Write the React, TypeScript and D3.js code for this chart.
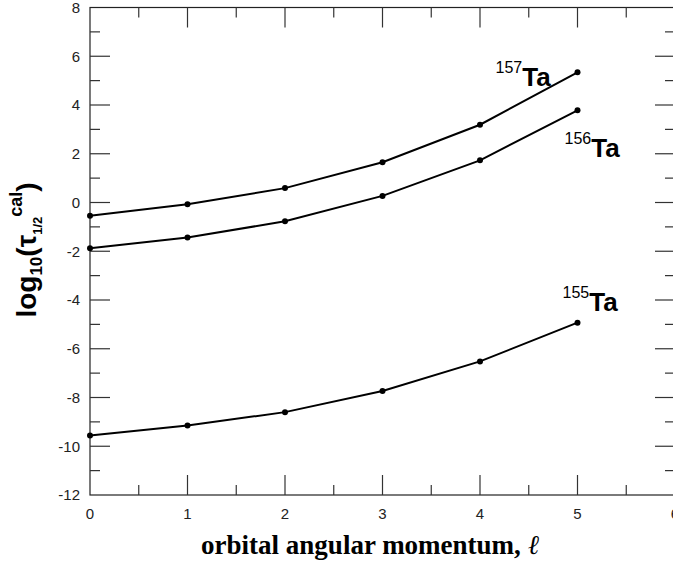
import { useEffect, useRef } from 'react';
import * as d3 from 'd3';

const ell = [0, 1, 2, 3, 4, 5];
const ta157 = [-0.54, -0.07, 0.59, 1.65, 3.19, 5.34];
const ta156 = [-1.88, -1.44, -0.77, 0.27, 1.73, 3.78];
const ta155 = [-9.56, -9.15, -8.6, -7.73, -6.52, -4.93];
const xTicks = [0, 1, 2, 3, 4, 5, 6];
const yTicks = [-12, -10, -8, -6, -4, -2, 0, 2, 4, 6, 8];

const labels = [
  { mass: '157', series: ta157, dx: -82, dy: 14 },
  { mass: '156', series: ta156, dx: -13, dy: 47 },
  { mass: '155', series: ta155, dx: -15, dy: -12 },
];

const App = () => {
  const svgRef = useRef<SVGSVGElement>(null);
  const width = 673;
  const height = 563;

  useEffect(() => {
    if (!svgRef.current) return;
    const svg = d3.select(svgRef.current);
    svg.selectAll('*').remove();

    const left = 90, right = 675, top = 7.5, bottom = 495;
    const x = d3.scaleLinear().domain([0, 6]).range([left, right]);
    const y = d3.scaleLinear().domain([-12, 8]).range([bottom, top]);

    const tickColor = '#333';
    const g = svg.append('g');

    // frame
    g.append('rect')
      .attr('x', left).attr('y', top)
      .attr('width', right - left).attr('height', bottom - top)
      .attr('fill', 'none').attr('stroke', '#222').attr('stroke-width', 1.2);

    // y ticks (major every 2, minor between)
    const yMinor = d3.range(-11, 8, 2);
    const tickSet = (vals: number[], len: number) => {
      vals.forEach(v => {
        g.append('line').attr('x1', left).attr('x2', left + len)
          .attr('y1', y(v)).attr('y2', y(v))
          .attr('stroke', tickColor).attr('stroke-width', 1.2);
        g.append('line').attr('x1', right).attr('x2', right - len)
          .attr('y1', y(v)).attr('y2', y(v))
          .attr('stroke', tickColor).attr('stroke-width', 1.2);
      });
    };
    tickSet(yTicks.slice(1, -1), 20);
    tickSet(yMinor, 10);

    const xMinor = d3.range(0.5, 6, 1);
    const xTickSet = (vals: number[], len: number) => {
      vals.forEach(v => {
        g.append('line').attr('x1', x(v)).attr('x2', x(v))
          .attr('y1', bottom).attr('y2', bottom - len)
          .attr('stroke', tickColor).attr('stroke-width', 1.2);
        g.append('line').attr('x1', x(v)).attr('x2', x(v))
          .attr('y1', top).attr('y2', top + len)
          .attr('stroke', tickColor).attr('stroke-width', 1.2);
      });
    };
    xTickSet(xTicks.slice(1, -1), 20);
    xTickSet(xMinor, 10);

    // tick labels
    g.selectAll('.ylab').data(yTicks).enter().append('text')
      .attr('x', left - 10).attr('y', d => y(d)).attr('dy', '0.35em')
      .attr('text-anchor', 'end')
      .attr('font-family', 'Arial, "Liberation Sans", sans-serif')
      .attr('font-size', 15).attr('fill', '#222')
      .text(d => d);
    g.selectAll('.xlab').data(xTicks).enter().append('text')
      .attr('x', d => x(d)).attr('y', bottom + 24)
      .attr('text-anchor', 'middle')
      .attr('font-family', 'Arial, "Liberation Sans", sans-serif')
      .attr('font-size', 15).attr('fill', '#222')
      .text(d => d);

    // series
    const line = d3.line<number>().x((_, i) => x(ell[i])).y(d => y(d));
    labels.forEach(s => {
      g.append('path').datum(s.series)
        .attr('d', line)
        .attr('fill', 'none').attr('stroke', '#000').attr('stroke-width', 2);
      g.selectAll(null).data(s.series).enter().append('circle')
        .attr('cx', (_, i) => x(ell[i])).attr('cy', d => y(d))
        .attr('r', 3).attr('fill', '#000');

      const last = s.series[s.series.length - 1];
      const t = g.append('text')
        .attr('x', x(5) + s.dx).attr('y', y(last) + s.dy)
        .attr('font-family', 'Arial, "Liberation Sans", sans-serif')
        .attr('fill', '#000');
      t.append('tspan').attr('font-size', 16).attr('dy', -13).text(s.mass);
      t.append('tspan').attr('font-size', 26).attr('font-weight', 'bold').attr('dy', 13).text('Ta');
    });

    // x axis title
    const xt = svg.append('text')
      .attr('x', 370).attr('y', 554)
      .attr('text-anchor', 'middle')
      .attr('font-family', '"Times New Roman", "Liberation Serif", serif')
      .attr('font-size', 27).attr('font-weight', 'bold').attr('fill', '#000');
    xt.append('tspan').text('orbital angular momentum, ');
    xt.append('tspan').attr('font-style', 'italic').attr('font-weight', 'normal').text('ℓ');

    // y axis title
    const yt = svg.append('text')
      .attr('transform', 'translate(36,250) rotate(-90)')
      .attr('text-anchor', 'middle')
      .attr('font-family', 'Arial, "Liberation Sans", sans-serif')
      .attr('font-weight', 'bold').attr('font-size', 28).attr('fill', '#000');
    yt.append('tspan').text('log');
    yt.append('tspan').attr('font-size', 17).attr('dy', 6).text('10');
    yt.append('tspan').attr('dy', -6).text('(τ');
    yt.append('tspan').attr('font-size', 13).attr('dy', 6).text('1/2');
    yt.append('tspan').attr('font-size', 18).attr('dy', -20).text('cal');
    yt.append('tspan').attr('dy', 14).text(')');
  }, []);

  return (
    <svg
      ref={svgRef}
      width={width}
      height={height}
      style={{ position: 'absolute', left: 0, top: 0, background: '#fff' }}
    />
  );
};

export default App;
